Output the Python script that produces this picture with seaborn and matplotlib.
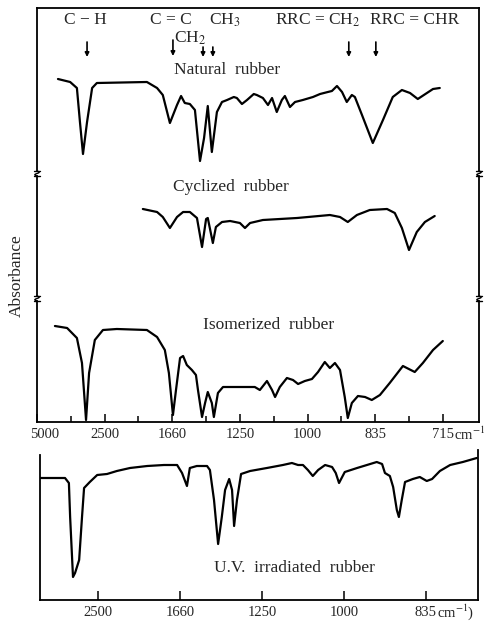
import numpy as np
import pandas as pd
import matplotlib
matplotlib.use("Agg")
import matplotlib.pyplot as plt
import matplotlib.transforms as mtransforms
from matplotlib.lines import Line2D
import seaborn as sns

# ---------------- data (wavelength in micrometres, signal in arbitrary units) ----------------
nat_um = [2.62, 2.98, 3.18, 3.27, 3.36, 3.48, 3.63, 3.77, 5.25, 5.55, 5.72, 5.93, 6.14, 6.26, 6.37,
          6.52, 6.67, 6.82, 6.94, 7.05, 7.17, 7.32, 7.47, 7.62, 7.82, 7.91, 8.06, 8.21, 8.41, 8.50,
          8.68, 8.83, 8.95, 9.09, 9.24, 9.33, 9.48, 9.63, 9.86, 10.16, 10.37, 10.60, 10.72, 10.87,
          11.02, 11.16, 11.31, 11.40, 11.61, 11.93, 12.23, 12.52, 12.79, 13.03, 13.26, 13.53, 13.71, 13.91]
nat_val = [92, 89, 83, 49, 17, 49, 83, 88, 89, 83, 76, 48, 66, 75, 68,
           67, 61, 10, 33, 65, 19, 59, 69, 71, 74, 73, 67, 71, 77, 76,
           73, 66, 73, 59, 71, 75, 64, 69, 71, 74, 77, 79, 80, 85,
           79, 69, 76, 74, 56, 28, 51, 74, 81, 78, 72, 78, 82, 83]

cyc_um = [5.13, 5.55, 5.72, 5.93, 6.14, 6.32, 6.52, 6.73, 6.88, 7.00, 7.05, 7.20, 7.29, 7.47, 7.71,
          8.00, 8.15, 8.30, 8.68, 9.69, 10.66, 10.96, 11.19, 11.46, 11.84, 12.35, 12.58, 12.79,
          13.00, 13.23, 13.47, 13.76]
cyc_val = [87, 84, 79, 68, 79, 84, 84, 78, 49, 77, 78, 53, 69, 74, 75,
           73, 68, 73, 76, 78, 81, 79, 74, 81, 86, 87, 83, 68,
           46, 64, 74, 80]

iso_um = [2.53, 2.89, 3.18, 3.33, 3.45, 3.54, 3.71, 3.95, 4.36, 5.25, 5.55, 5.78, 5.90, 6.02, 6.11,
          6.23, 6.32, 6.43, 6.58, 6.70, 6.76, 6.88, 6.97, 7.05, 7.17, 7.23, 7.35, 7.50, 7.79, 8.21,
          8.44, 8.59, 8.80, 8.95, 9.04, 9.18, 9.39, 9.57, 9.72, 9.92, 10.13, 10.31, 10.51, 10.66,
          10.81, 10.96, 11.10, 11.19, 11.31, 11.49, 11.70, 11.90, 12.14, 12.43, 12.82, 13.17, 13.41,
          13.71, 14.00]
iso_val = [96, 94, 84, 59, 2, 49, 82, 92, 93, 92, 85, 72, 49, 7, 32,
           64, 66, 57, 52, 47, 32, 5, 19, 30, 19, 5, 29, 35, 35, 35,
           35, 32, 41, 32, 25, 35, 44, 42, 38, 41, 43, 50, 60, 54,
           59, 52, 25, 4, 19, 26, 25, 22, 27, 39, 56, 50, 59,
           72, 81]

uv_um = [2.585, 3.195, 3.29, 3.32, 3.39, 3.44, 3.54, 3.61, 3.66, 3.80, 3.98, 4.22, 4.46, 4.78, 5.20,
         5.61, 5.93, 6.05, 6.17, 6.24, 6.41, 6.66, 6.73, 6.83, 6.93, 7.02, 7.10, 7.20, 7.27, 7.32,
         7.39, 7.49, 7.71, 8.12, 8.51, 8.73, 8.88, 9.00, 9.12, 9.24, 9.37, 9.54, 9.71, 9.80, 9.88,
         10.02, 10.32, 10.56, 10.80, 10.93, 11.00, 11.12, 11.20, 11.29, 11.34, 11.41, 11.49, 11.68,
         11.85, 12.02, 12.15, 12.34, 12.59, 12.90, 13.24]
uv_val = [122, 122, 117, 83, 23, 27, 40, 83, 112, 118, 125, 126, 129, 132, 134,
          135, 135, 127, 114, 132, 134, 134, 130, 100, 56, 83, 110, 121, 110, 74,
          100, 126, 129, 132, 135, 137, 135, 135, 130, 124, 130, 135, 133, 127, 117,
          128, 132, 135, 138, 136, 127, 124, 113, 90, 83, 100, 118, 121,
          123, 119, 121, 129, 135, 138, 142]

top_tick_um = [2, 4, 6, 8, 10, 12, 14]
top_tick_labels = ["5000", "2500", "1660", "1250", "1000", "835", "715"]
top_minor_um = [3, 5, 7, 9, 11, 13]
uv_tick_um = [4, 6, 8, 10, 12]
uv_tick_labels = ["2500", "1660", "1250", "1000", "835"]

band_labels = ["C − H", "C = C", "CH$_2$", "CH$_3$", "RRC = CH$_2$", "RRC = CHR"]
band_label_um = [3.42, 5.96, 6.52, 7.56, 10.31, 13.17]
band_label_val = [151, 151, 133, 151, 151, 151]
arrow_um = [3.48, 6.02, 6.91, 7.20, 11.22, 12.02]
arrow_top = [129, 131, 124, 124, 129, 129]
arrow_bot = [114, 115, 114, 114, 114, 114]

# ---------------- style ----------------
sns.set_theme(style="white")
plt.rcParams["font.family"] = ["Liberation Serif", "DejaVu Serif"]
plt.rcParams["mathtext.fontset"] = "stix"

W, H = 496, 624
fig = plt.figure(figsize=(W / 100, H / 100), dpi=100)
fig.patch.set_facecolor("white")


def rect(l, t, r, b):
    return [l / W, 1 - b / H, (r - l) / W, (b - t) / H]


ax_nat = fig.add_axes(rect(37, 8, 479, 171))
ax_cyc = fig.add_axes(rect(37, 176, 479, 296))
ax_iso = fig.add_axes(rect(37, 301, 479, 422))
ax_uv = fig.add_axes(rect(40, 450, 478, 600))

LW = 1.6
SPW = 1.3

for ax, xs, ys, ylim in [(ax_nat, nat_um, nat_val, 163), (ax_cyc, cyc_um, cyc_val, 120),
                         (ax_iso, iso_um, iso_val, 121)]:
    df = pd.DataFrame({"um": xs, "val": ys})
    sns.lineplot(data=df, x="um", y="val", ax=ax, color="black", lw=LW, estimator=None, sort=False)
    ax.set_xlim(2, 15.07)
    ax.set_ylim(0, ylim)
    ax.set_xlabel("")
    ax.set_ylabel("")
    ax.set_yticks([])
    ax.set_facecolor("none")
    for s in ax.spines.values():
        s.set_color("black")
        s.set_linewidth(SPW)

ax_nat.spines["bottom"].set_visible(False)
ax_cyc.spines["top"].set_visible(False)
ax_cyc.spines["bottom"].set_visible(False)
ax_iso.spines["top"].set_visible(False)
ax_nat.set_xticks([])
ax_cyc.set_xticks([])

ax_iso.set_xticks(top_tick_um)
ax_iso.set_xticklabels(top_tick_labels)
ax_iso.set_xticks(top_minor_um, minor=True)
ax_iso.tick_params(axis="x", which="major", direction="in", length=6, width=1.1,
                   labelsize=10.5, pad=4, color="black", bottom=True)
ax_iso.tick_params(axis="x", which="minor", direction="in", length=4, width=1.1,
                   color="black", bottom=True)
first = ax_iso.get_xticklabels()[0]
first.set_transform(first.get_transform() +
                    mtransforms.ScaledTranslation(8 / 100, 0, fig.dpi_scale_trans))
ax_iso.text(14.33, -0.105, "cm$^{-1}$", transform=ax_iso.get_xaxis_transform(),
            ha="left", va="center", fontsize=10.5)

# UV panel
df_uv = pd.DataFrame({"um": uv_um, "val": uv_val})
sns.lineplot(data=df_uv, x="um", y="val", ax=ax_uv, color="black", lw=LW, estimator=None, sort=False)
ax_uv.set_xlim(2.585, 13.27)
ax_uv.set_ylim(0, 150)
ax_uv.set_xlabel("")
ax_uv.set_ylabel("")
ax_uv.set_yticks([])
ax_uv.set_facecolor("none")
for s in ax_uv.spines.values():
    s.set_color("black")
    s.set_linewidth(SPW)
ax_uv.spines["top"].set_visible(False)
ax_uv.spines["left"].set_bounds(0, 145)
ax_uv.set_xticks(uv_tick_um)
ax_uv.set_xticklabels(uv_tick_labels)
ax_uv.tick_params(axis="x", which="major", direction="in", length=6.5, width=1.1,
                  labelsize=10.5, pad=4, color="black", bottom=True)
ax_uv.text(12.27, -0.08, "cm$^{-1}$)", transform=ax_uv.get_xaxis_transform(),
           ha="left", va="center", fontsize=10.5)

# labels
ax_nat.text(7.62, 101, "Natural  rubber", ha="center", va="center", fontsize=12.5)
ax_cyc.text(7.73, 109, "Cyclized  rubber", ha="center", va="center", fontsize=12.5)
ax_iso.text(8.86, 97, "Isomerized  rubber", ha="center", va="center", fontsize=12.5)
ax_uv.text(8.80, 32, "U.V.  irradiated  rubber", ha="center", va="center", fontsize=12.5)

for lab, x, y in zip(band_labels, band_label_um, band_label_val):
    ax_nat.text(x, y, lab, ha="center", va="center", fontsize=12.5)
for x, y0, y1 in zip(arrow_um, arrow_top, arrow_bot):
    ax_nat.annotate("", xy=(x, y1), xytext=(x, y0),
                    arrowprops=dict(arrowstyle="-|>", color="black", lw=1.2,
                                    mutation_scale=6, shrinkA=0, shrinkB=0))

fig.text(17 / W, 1 - 276 / H, "Absorbance", rotation=90, ha="center", va="center", fontsize=12.5)

# axis-break marks on the side spines
def break_mark(xpx, ytop, ybot):
    t = np.linspace(0, 1, 20)
    xs = xpx + 2.2 * np.sin(2 * np.pi * t)
    ys = ytop + (ybot - ytop) * t
    fig.add_artist(Line2D(xs / W, 1 - ys / H, transform=fig.transFigure, color="black", lw=1.0))
    for yy in (ytop, ybot):
        fig.add_artist(Line2D([(xpx - 3) / W, (xpx + 3) / W], [1 - yy / H, 1 - yy / H],
                              transform=fig.transFigure, color="black", lw=1.0))

for xpx in (37, 479):
    break_mark(xpx, 171, 176)
    break_mark(xpx, 296, 301)

fig.savefig("out.png", dpi=100, facecolor="white")
